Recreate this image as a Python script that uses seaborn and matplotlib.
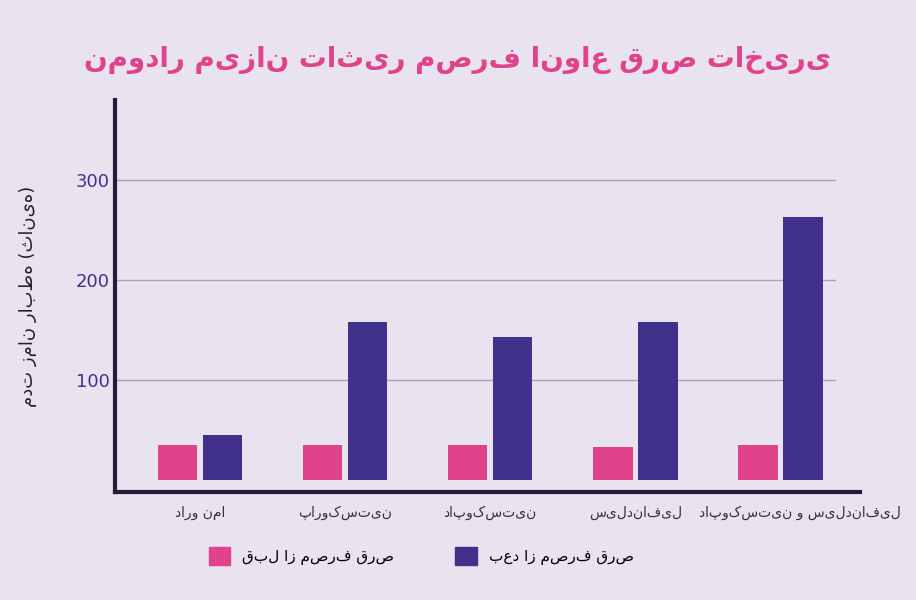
import matplotlib
matplotlib.use("Agg")
import matplotlib.pyplot as plt
import matplotlib.transforms as mtransforms
import seaborn as sns
import pandas as pd
from matplotlib.patches import Patch

categories = ["دارو نما", "پاروکستین", "داپوکستین", "سیلدنافیل", "داپوکستین و سیلدنافیل"]
before = [35, 35, 35, 33, 35]
after = [45, 158, 143, 158, 263]
series = ["قبل از مصرف قرص", "بعد از مصرف قرص"]
yticks = [100, 200, 300]

bg = "#e9e3ef"
pink = "#e0438c"
purple = "#42318c"

df = pd.DataFrame({
    "cat": categories * 2,
    "val": before + after,
    "s": [series[0]] * 5 + [series[1]] * 5,
})

plt.rcParams["font.family"] = "DejaVu Sans"
fig = plt.figure(figsize=(9.16, 6.0), dpi=100, facecolor=bg)
ax = fig.add_axes([0.1255, 0.18, 0.8135, 0.653], facecolor=bg)
sns.barplot(data=df, x="cat", y="val", hue="s", palette=[pink, purple],
            width=0.62, gap=0.12, ax=ax, legend=False, saturation=1)
ax.set_xlim(-0.586, 4.55)
ax.set_ylim(-12, 380)
ax.set_yticks(yticks)
ax.set_yticklabels([str(t) for t in yticks], color=purple, fontsize=13)
for t in yticks:
    ax.plot([-0.586, 4.38], [t, t], color="#a8a0bc", lw=1, zorder=0)
ax.tick_params(axis="both", length=0)
ax.tick_params(axis="x", labelsize=10, colors="#333333", pad=10)
labels = ax.get_xticklabels()
last = labels[-1]
last.set_transform(last.get_transform() +
                   mtransforms.ScaledTranslation(0.2, 0, fig.dpi_scale_trans))
for s in ["top", "right"]:
    ax.spines[s].set_visible(False)
for s in ["left", "bottom"]:
    ax.spines[s].set_color("#2a1a3a")
    ax.spines[s].set_linewidth(3)
ax.set_xlabel("")
ax.set_ylabel("مدت زمان رابطه (ثانیه)", fontsize=13, color="#222222", labelpad=28)

fig.text(0.5, 0.9, "نمودار میزان تاثیر مصرف انواع قرص تاخیری", ha="center", va="center",
         fontsize=20, fontweight="bold", color=pink)

handles = [Patch(color=pink, label=series[0]), Patch(color=purple, label=series[1])]
fig.legend(handles=handles, loc="center", bbox_to_anchor=(0.46, 0.073), ncol=2,
           frameon=False, fontsize=11, handlelength=1.4, handleheight=1.4,
           columnspacing=4)
fig.savefig("out.png", dpi=100, facecolor=bg)
